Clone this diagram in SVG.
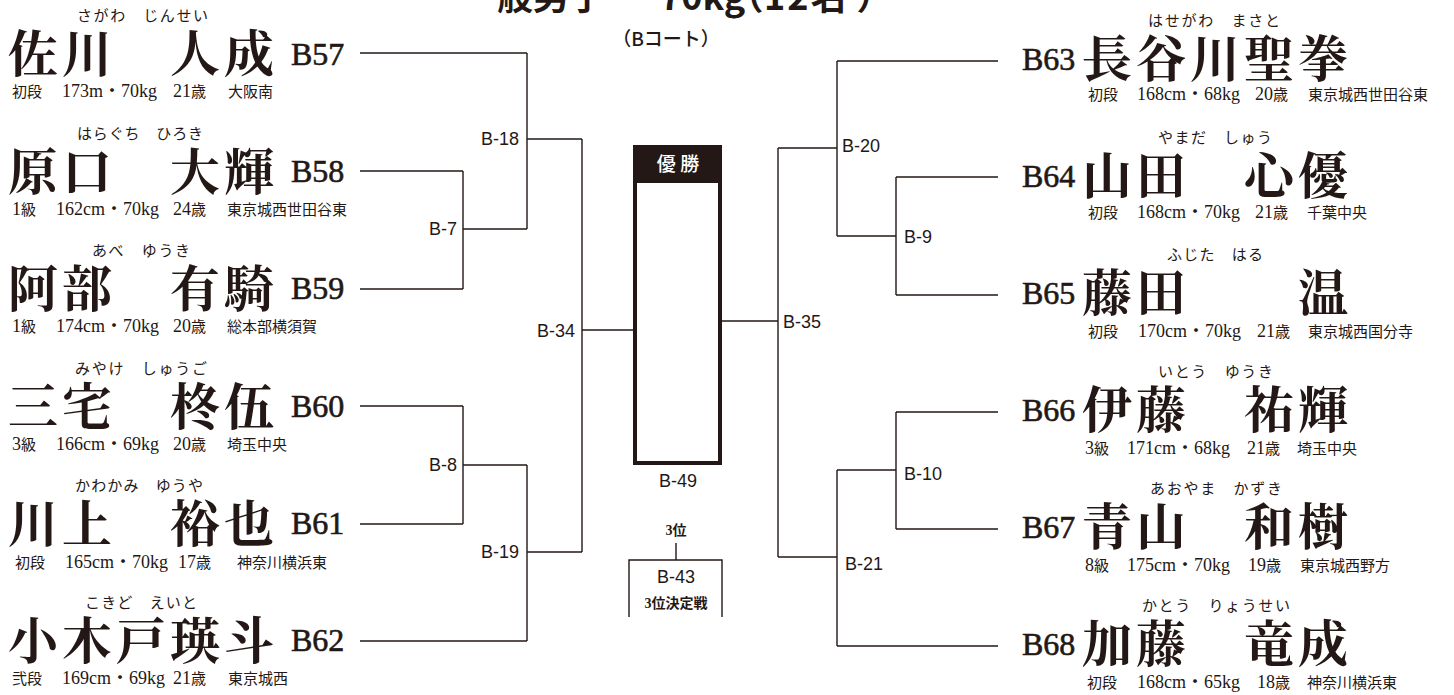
<svg xmlns="http://www.w3.org/2000/svg" width="1454" height="695" viewBox="0 0 1454 695">
<style>
text{fill:#231815}
.nm{font-family:"Noto Serif CJK JP","Noto Sans CJK JP",serif;font-size:50px;font-weight:700}
.fu{font-family:"Noto Sans CJK JP",sans-serif;font-size:15px}
.bn{font-family:"Liberation Serif",serif;font-size:32px;stroke:#231815;stroke-width:0.6}
.inf{font-family:"Liberation Serif","Noto Sans CJK JP",serif;font-size:15px}
.n{font-size:18px}
.ml{font-family:"Liberation Sans",Arial,sans-serif;font-size:18px}
.ttl{font-family:"Noto Sans CJK JP",sans-serif;font-size:36px;font-weight:700;font-feature-settings:"palt"}
.sub{font-family:"Noto Sans CJK JP",sans-serif;font-size:19px;font-weight:500}
.sb{font-family:"Liberation Serif","Noto Sans CJK JP",serif;font-size:14px;font-weight:700}
.ln{fill:none;stroke:#231815;stroke-width:1.4}
</style>
<rect width="1454" height="695" fill="#fff"/>
<g id="title">
<text class="ttl" y="10"><tspan x="461">一般男子</tspan><tspan x="614">−</tspan><tspan x="660">70kg</tspan><tspan x="744">（</tspan><tspan x="764" letter-spacing="2">12名</tspan><tspan x="858">）</tspan></text>
<text class="sub" x="666" y="46" text-anchor="middle">（Bコート）</text>
</g>
<g id="connectors" class="ln">
<path d="M360 53H527M360 171H463M360 289H463M360 406H463M360 524H463M360 641H527"/>
<path d="M463 171V289M463 229H527M527 53V229M527 139H582"/>
<path d="M463 406V524M463 465H527M527 465V641M527 552H582"/>
<path d="M582 139V552M582 330H633"/>
<path d="M998 61H837M998 177H896M998 295H896M998 412H896M998 529H896M998 646H837"/>
<path d="M896 177V295M896 236H837M837 61V236M837 148H778"/>
<path d="M896 412V529M896 470H837M837 470V646M837 557H778"/>
<path d="M778 148V557M778 321H722"/>
<path d="M676 543V560M629 617V560H722V617"/>
</g>
<g id="labels" class="ml">
<text x="519" y="145" text-anchor="end">B-18</text>
<text x="457" y="235" text-anchor="end">B-7</text>
<text x="457" y="471" text-anchor="end">B-8</text>
<text x="519" y="558" text-anchor="end">B-19</text>
<text x="575" y="337" text-anchor="end">B-34</text>
<text x="783" y="328">B-35</text>
<text x="842" y="152">B-20</text>
<text x="904" y="243">B-9</text>
<text x="904" y="480">B-10</text>
<text x="845" y="570">B-21</text>
</g>
<g id="final">
<rect x="635" y="147" width="85" height="316" fill="none" stroke="#231815" stroke-width="4"/>
<rect x="633" y="145" width="89" height="38" fill="#231815"/>
<text x="678" y="171" text-anchor="middle" style="fill:#fff;font-family:'Noto Sans CJK JP',sans-serif;font-size:19px;font-weight:500">優 勝</text>
<text class="ml" x="678" y="487" text-anchor="middle">B-49</text>
</g>
<g id="third">
<text class="sb" x="676" y="535" text-anchor="middle">3位</text>
<text class="ml" x="676" y="583" text-anchor="middle">B-43</text>
<text class="sb" x="676" y="608" text-anchor="middle">3位決定戦</text>
</g>
<g id="B57">
<text class="fu" x="77" y="21" textLength="131" lengthAdjust="spacing">さがわ　じんせい</text>
<text class="nm" x="8" y="72" textLength="266" lengthAdjust="spacing">佐川　人成</text>
<text class="bn" x="291" y="65">B57</text>
<text class="inf" y="97"><tspan x="12">初段</tspan><tspan class="n" x="62">173m・70kg</tspan><tspan class="n" x="173">21</tspan><tspan>歳</tspan><tspan x="228">大阪南</tspan></text>
</g>
<g id="B58">
<text class="fu" x="77" y="139" textLength="126" lengthAdjust="spacing">はらぐち　ひろき</text>
<text class="nm" x="8" y="190" textLength="266" lengthAdjust="spacing">原口　大輝</text>
<text class="bn" x="291" y="182">B58</text>
<text class="inf" y="215"><tspan class="n" x="12">1</tspan><tspan>級</tspan><tspan class="n" x="56">162cm・70kg</tspan><tspan class="n" x="173">24</tspan><tspan>歳</tspan><tspan x="227">東京城西世田谷東</tspan></text>
</g>
<g id="B59">
<text class="fu" x="92" y="256" textLength="98" lengthAdjust="spacing">あべ　ゆうき</text>
<text class="nm" x="8" y="307" textLength="266" lengthAdjust="spacing">阿部　有騎</text>
<text class="bn" x="291" y="299">B59</text>
<text class="inf" y="332"><tspan class="n" x="12">1</tspan><tspan>級</tspan><tspan class="n" x="56">174cm・70kg</tspan><tspan class="n" x="173">20</tspan><tspan>歳</tspan><tspan x="227">総本部横須賀</tspan></text>
</g>
<g id="B60">
<text class="fu" x="75" y="374" textLength="132" lengthAdjust="spacing">みやけ　しゅうご</text>
<text class="nm" x="8" y="425" textLength="266" lengthAdjust="spacing">三宅　柊伍</text>
<text class="bn" x="291" y="417">B60</text>
<text class="inf" y="450"><tspan class="n" x="12">3</tspan><tspan>級</tspan><tspan class="n" x="56">166cm・69kg</tspan><tspan class="n" x="173">20</tspan><tspan>歳</tspan><tspan x="227">埼玉中央</tspan></text>
</g>
<g id="B61">
<text class="fu" x="75" y="491" textLength="128" lengthAdjust="spacing">かわかみ　ゆうや</text>
<text class="nm" x="8" y="542" textLength="266" lengthAdjust="spacing">川上　裕也</text>
<text class="bn" x="291" y="534">B61</text>
<text class="inf" y="568"><tspan x="15">初段</tspan><tspan class="n" x="65">165cm・70kg</tspan><tspan class="n" x="178">17</tspan><tspan>歳</tspan><tspan x="237">神奈川横浜東</tspan></text>
</g>
<g id="B62">
<text class="fu" x="85" y="608" textLength="112" lengthAdjust="spacing">こきど　えいと</text>
<text class="nm" x="8" y="659" textLength="266" lengthAdjust="spacing">小木戸瑛斗</text>
<text class="bn" x="291" y="651">B62</text>
<text class="inf" y="684"><tspan x="12">弐段</tspan><tspan class="n" x="62">169cm・69kg</tspan><tspan class="n" x="173">21</tspan><tspan>歳</tspan><tspan x="228">東京城西</tspan></text>
</g>
<g id="B63">
<text class="fu" x="1148" y="26" textLength="132" lengthAdjust="spacing">はせがわ　まさと</text>
<text class="nm" x="1082" y="77" textLength="266" lengthAdjust="spacing">長谷川聖拳</text>
<text class="bn" x="1022" y="70">B63</text>
<text class="inf" y="100"><tspan x="1088">初段</tspan><tspan class="n" x="1137">168cm・68kg</tspan><tspan class="n" x="1255">20</tspan><tspan>歳</tspan><tspan x="1308">東京城西世田谷東</tspan></text>
</g>
<g id="B64">
<text class="fu" x="1158" y="143" textLength="114" lengthAdjust="spacing">やまだ　しゅう</text>
<text class="nm" x="1082" y="194" textLength="266" lengthAdjust="spacing">山田　心優</text>
<text class="bn" x="1022" y="187">B64</text>
<text class="inf" y="218"><tspan x="1088">初段</tspan><tspan class="n" x="1137">168cm・70kg</tspan><tspan class="n" x="1255">21</tspan><tspan>歳</tspan><tspan x="1307">千葉中央</tspan></text>
</g>
<g id="B65">
<text class="fu" x="1167" y="260" textLength="96" lengthAdjust="spacing">ふじた　はる</text>
<text class="nm" x="1082" y="311" textLength="266" lengthAdjust="spacing">藤田　　温</text>
<text class="bn" x="1022" y="304">B65</text>
<text class="inf" y="337"><tspan x="1088">初段</tspan><tspan class="n" x="1138">170cm・70kg</tspan><tspan class="n" x="1257">21</tspan><tspan>歳</tspan><tspan x="1308">東京城西国分寺</tspan></text>
</g>
<g id="B66">
<text class="fu" x="1158" y="377" textLength="115" lengthAdjust="spacing">いとう　ゆうき</text>
<text class="nm" x="1082" y="428" textLength="266" lengthAdjust="spacing">伊藤　祐輝</text>
<text class="bn" x="1022" y="421">B66</text>
<text class="inf" y="454"><tspan class="n" x="1085">3</tspan><tspan>級</tspan><tspan class="n" x="1127">171cm・68kg</tspan><tspan class="n" x="1247">21</tspan><tspan>歳</tspan><tspan x="1297">埼玉中央</tspan></text>
</g>
<g id="B67">
<text class="fu" x="1150" y="494" textLength="132" lengthAdjust="spacing">あおやま　かずき</text>
<text class="nm" x="1082" y="545" textLength="266" lengthAdjust="spacing">青山　和樹</text>
<text class="bn" x="1022" y="538">B67</text>
<text class="inf" y="571"><tspan class="n" x="1085">8</tspan><tspan>級</tspan><tspan class="n" x="1127">175cm・70kg</tspan><tspan class="n" x="1248">19</tspan><tspan>歳</tspan><tspan x="1300">東京城西野方</tspan></text>
</g>
<g id="B68">
<text class="fu" x="1142" y="611" textLength="148" lengthAdjust="spacing">かとう　りょうせい</text>
<text class="nm" x="1082" y="662" textLength="266" lengthAdjust="spacing">加藤　竜成</text>
<text class="bn" x="1022" y="655">B68</text>
<text class="inf" y="688"><tspan x="1087">初段</tspan><tspan class="n" x="1137">168cm・65kg</tspan><tspan class="n" x="1257">18</tspan><tspan>歳</tspan><tspan x="1307">神奈川横浜東</tspan></text>
</g>
</svg>
